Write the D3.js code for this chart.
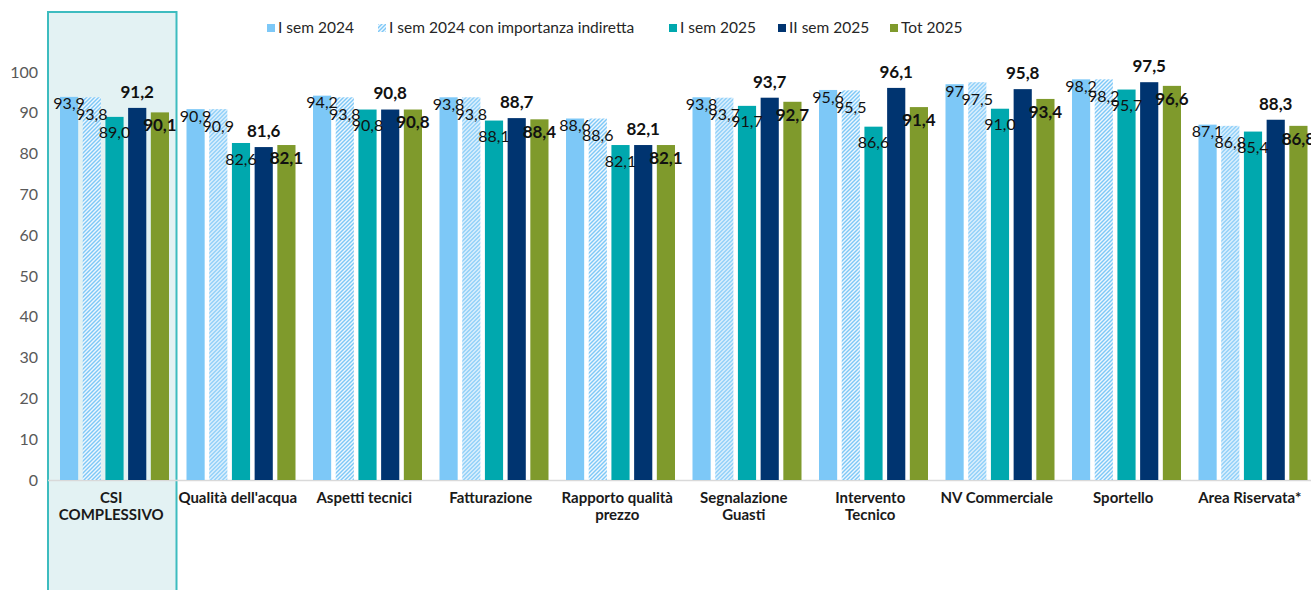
<!DOCTYPE html>
<html lang="it">
<head>
<meta charset="UTF-8">
<title>CSI</title>
<script src="https://cdnjs.cloudflare.com/ajax/libs/d3/7.8.5/d3.min.js"></script>
<style>
    body { margin: 0; background: #fff; }
    svg { font-family: Lato, "Open Sans", sans-serif; }
</style>
</head>
<body>
<div id="chart"></div>
<script>
// categorie e serie
var categories = ["CSI COMPLESSIVO", "Qualità dell'acqua", "Aspetti tecnici", "Fatturazione",
    "Rapporto qualità prezzo", "Segnalazione Guasti", "Intervento Tecnico",
    "NV Commerciale", "Sportello", "Area Riservata*"];
var seriesNames = ["I sem 2024", "I sem 2024 con importanza indiretta", "I sem 2025", "II sem 2025", "Tot 2025"];

var sem1_2024    = [93.9, 90.9, 94.2, 93.8, 88.6, 93.8, 95.6, 97,   98.2, 87.1];
var sem1_2024ind = [93.8, 90.9, 93.8, 93.8, 88.6, 93.7, 95.5, 97.5, 98.2, 86.8];
var sem1_2025    = [89.0, 82.6, 90.8, 88.1, 82.1, 91.7, 86.6, 91.0, 95.7, 85.4];
var sem2_2025    = [91.2, 81.6, 90.8, 88.7, 82.1, 93.7, 96.1, 95.8, 97.5, 88.3];
var tot2025      = [90.1, 82.1, 90.8, 88.4, 82.1, 92.7, 91.4, 93.4, 96.6, 86.8];

var yTicks = [0, 10, 20, 30, 40, 50, 60, 70, 80, 90, 100];

var width = 1311, height = 590;
var svg = d3.select("#chart").append("svg")
    .attr("width", width)
    .attr("height", height);

var defs = svg.append("defs");
var pat = defs.append("pattern")
    .attr("id", "hatch")
    .attr("patternUnits", "userSpaceOnUse")
    .attr("width", 4).attr("height", 4);
pat.append("rect").attr("width", 4).attr("height", 4).attr("fill", "#eef7fe");
pat.append("path")
    .attr("d", "M-1,1 l2,-2 M0,4 l4,-4 M3,5 l2,-2")
    .attr("stroke", "#7dc8f7").attr("stroke-width", 1.4);

var series = [
    {name: seriesNames[0], values: sem1_2024,    fill: "#7dc8f7",      fmt: ".1~f", bold: false, dy: 7},
    {name: seriesNames[1], values: sem1_2024ind, fill: "url(#hatch)",  fmt: ".1f",  bold: false, dy: 17},
    {name: seriesNames[2], values: sem1_2025,    fill: "#00a8ae",      fmt: ".1f",  bold: false, dy: 16},
    {name: seriesNames[3], values: sem2_2025,    fill: "#003470",      fmt: ".1f",  bold: true,  dy: -16},
    {name: seriesNames[4], values: tot2025,      fill: "#7f9a2c",      fmt: ".1f",  bold: true,  dy: 13}
];

var x0 = d3.scaleBand().domain(categories).range([48, 1313]).padding(0);
var x1 = d3.scaleBand().domain(seriesNames).range([12, 121]).paddingInner(0.2);
var y = d3.scaleLinear().domain([0, 100]).range([480, 72]);

// riquadro evidenziato CSI
svg.append("rect")
    .attr("x", x0(categories[0]))
    .attr("y", 12)
    .attr("width", x0.bandwidth() + 2)
    .attr("height", 590)
    .attr("fill", "#e3f2f3")
    .attr("stroke", "#3dbcbf")
    .attr("stroke-width", 2);

// asse y (solo etichette)
svg.append("g").selectAll("text")
    .data(yTicks)
    .join("text")
    .attr("x", 38)
    .attr("y", d => y(d))
    .attr("dy", "0.35em")
    .attr("text-anchor", "end")
    .attr("font-size", 16)
    .attr("fill", "#595959")
    .text(d => d);

// linea base
svg.append("line")
    .attr("x1", 48).attr("x2", width)
    .attr("y1", y(0) + 0.5).attr("y2", y(0) + 0.5)
    .attr("stroke", "#d9d9d9").attr("stroke-width", 1.5);

// barre
var groups = svg.append("g").selectAll("g")
    .data(categories)
    .join("g")
    .attr("transform", d => `translate(${x0(d)},0)`);

groups.selectAll("rect")
    .data((c, i) => series.map(s => ({s: s, v: s.values[i]})))
    .join("rect")
    .attr("x", d => x1(d.s.name))
    .attr("width", x1.bandwidth())
    .attr("y", d => y(d.v))
    .attr("height", d => y(0) - y(d.v))
    .attr("fill", d => d.s.fill);

groups.selectAll("text.val")
    .data((c, i) => series.map(s => ({s: s, v: s.values[i]})))
    .join("text")
    .attr("class", "val")
    .attr("x", d => x1(d.s.name) + x1.bandwidth() / 2)
    .attr("y", d => y(d.v) + d.s.dy)
    .attr("dy", "0.35em")
    .attr("text-anchor", "middle")
    .attr("font-size", d => d.s.bold ? 17 : 16)
    .attr("font-weight", d => d.s.bold ? "bold" : "normal")
    .attr("fill", "#111")
    .text(d => d3.format(d.s.fmt)(d.v).replace(".", ","));

// etichette categorie
var catLines = {
    "CSI COMPLESSIVO": ["CSI", "COMPLESSIVO"],
    "Rapporto qualità prezzo": ["Rapporto qualità", "prezzo"],
    "Segnalazione Guasti": ["Segnalazione", "Guasti"],
    "Intervento Tecnico": ["Intervento", "Tecnico"]
};
var catText = svg.append("g").selectAll("text")
    .data(categories)
    .join("text")
    .attr("x", d => x0(d) + x0.bandwidth() / 2)
    .attr("y", 503)
    .attr("text-anchor", "middle")
    .attr("font-size", 15)
    .attr("font-weight", "bold")
    .attr("fill", "#1a1a1a");
catText.selectAll("tspan")
    .data(d => catLines[d] || [d])
    .join("tspan")
    .attr("x", function() { return this.parentNode.getAttribute("x"); })
    .attr("dy", (d, i) => i === 0 ? 0 : 17)
    .text(d => d);

// legenda
var legendX = [267, 378, 669, 778, 890];
var legend = svg.append("g").selectAll("g")
    .data(series)
    .join("g")
    .attr("transform", (d, i) => `translate(${legendX[i]},28)`);
legend.append("rect")
    .attr("x", 0).attr("y", -4)
    .attr("width", 8).attr("height", 8)
    .attr("fill", d => d.fill);
legend.append("text")
    .attr("x", 11)
    .attr("dy", "0.35em")
    .attr("font-size", 15.5)
    .attr("fill", "#262626")
    .text(d => d.name);
</script>
</body>
</html>
